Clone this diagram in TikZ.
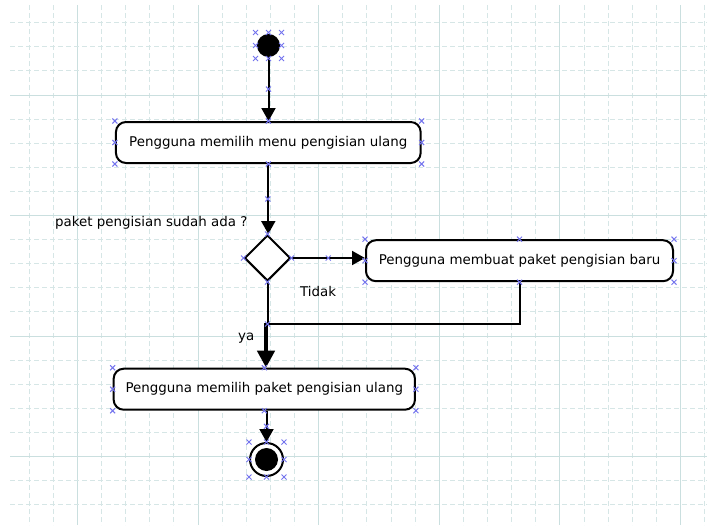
\documentclass[tikz,border=0pt]{standalone}
\usepackage{fontspec}
\setmainfont{DejaVu Sans}
\usetikzlibrary{arrows.meta,shapes.geometric,calc}

\definecolor{gridminor}{HTML}{D6E6E6}
\definecolor{gridmajor}{HTML}{CADFDF}
\definecolor{handlecol}{HTML}{7474EE}

\newcommand\umlfont{\fontsize{13.4pt}{16pt}\selectfont}

\tikzset{
  gridminorline/.style={draw=gridminor, line width=1pt, dash pattern=on 5pt off 3pt},
  gridmajorline/.style={draw=gridmajor, line width=1pt},
  activity/.style={draw, line width=2pt, rounded corners=10pt, fill=white,
    inner sep=0pt, minimum height=41pt, font=\umlfont},
  decision/.style={diamond, draw, line width=2pt, fill=white, inner sep=0pt,
    minimum width=46pt, minimum height=46pt, aspect=1},
  initial/.style={circle, fill=black, inner sep=0pt, minimum size=23pt},
  final/.style={circle, draw, line width=2pt, fill=white, inner sep=0pt, minimum size=33pt},
  flow/.style={line width=2pt, -{Triangle[length=13pt,width=14pt]}},
  flowline/.style={line width=2pt},
  merged/.style={line width=4.5pt, -{Triangle[length=17pt,width=17pt]}},
  guard/.style={inner sep=0pt, font=\umlfont},
  handle/.style={draw=handlecol, line width=1pt},
  hx/.pic={\draw[handle] (-2.5,-2.5) -- (2.5,2.5) (-2.5,2.5) -- (2.5,-2.5);},
}

\begin{document}
\begin{tikzpicture}[x=1pt, y=-1pt]
  % page and white background
  \useasboundingbox[fill=white] (0,0) rectangle (707,525);

  % drawing grid: dashed minor lines, solid line every fifth cell
  \foreach \i in {0,...,28}{
    \pgfmathsetmacro\gx{29.26+24.12*\i}
    \pgfmathtruncatemacro\m{mod(\i,5)}
    \ifnum\m=2
      \draw[gridmajorline] (\gx,5) -- (\gx,525);
    \else
      \draw[gridminorline] (\gx,5) -- (\gx,525);
    \fi
  }
  \foreach \j in {0,...,20}{
    \pgfmathsetmacro\gy{22.7+24.1*\j}
    \pgfmathtruncatemacro\m{mod(\j,5)}
    \ifnum\m=3
      \draw[gridmajorline] (10,\gy) -- (707,\gy);
    \else
      \draw[gridminorline] (10,\gy) -- (707,\gy);
    \fi
  }

  % activity nodes
  \node[initial] (start) at (268.5,45.5) {};
  \node[activity, minimum width=304.7pt] (a1) at (268.3,142.5) {Pengguna memilih menu pengisian ulang};
  \node[decision] (dec) at (267.5,258) {};
  \node[activity, minimum width=307pt] (a2) at (519.5,260.7) {Pengguna membuat paket pengisian baru};
  \node[activity, minimum width=301.3pt] (a3) at (264.3,389.2) {Pengguna memilih paket pengisian ulang};
  \node[final] (fin) at (266.5,459.5) {};
  \fill (fin.center) circle[radius=11.5pt];

  % guards and question
  \node[guard, anchor=west] (q) at (55,223) {paket pengisian sudah ada ?};
  \node[guard, anchor=west] (tno) at (300,291) {Tidak};
  \node[guard, anchor=west] (tyes) at (238,338) {ya};

  % control flows
  \coordinate (j) at (267.5,324);
  \coordinate (jm) at (266,322.5);
  \draw[flow] (start.south) -- (start.south |- a1.north);
  \draw[flow] (a1.south) -- (a1.south |- dec.north);
  \draw[flow] (dec.east) -- (dec.east -| a2.west);
  \draw[flowline] (dec.south) -- (j);
  \draw[flowline] (a2.south) |- (j);
  \draw[merged] (jm) -- (jm |- a3.north);
  \draw[flow] (fin.north |- a3.south) -- (fin.north);

  % selection handles
  \foreach \n in {a1,a2,a3}{
    \foreach \a in {north west,north,north east,west,east,south west,south,south east}
      \pic at (\n.\a) {hx};
  }
  \foreach \a in {north,west,east,south}
    \pic at (dec.\a) {hx};
  \foreach \dx/\dy in {-13/-13,0/-13,13/-13,-13/0,13/0,-13/13,0/13,13/13}
    \pic at ($(start)+(\dx,\dy)$) {hx};
  \foreach \dx/\dy in {-17.5/-17.5,0/-17.5,17.5/-17.5,-17.5/0,17.5/0,-17.5/17.5,0/17.5,17.5/17.5}
    \pic at ($(fin)+(\dx,\dy)$) {hx};
  \pic at ($(start.south)!0.5!(a1.north)$) {hx};
  \pic at ($(a1.south)!0.5!(dec.north)$) {hx};
  \pic at ($(dec.east)!0.5!(dec.east -| a2.west)$) {hx};
  \pic at (j) {hx};
  \pic at ($(fin.north |- a3.south)!0.5!(fin.north)$) {hx};
\end{tikzpicture}
\end{document}
